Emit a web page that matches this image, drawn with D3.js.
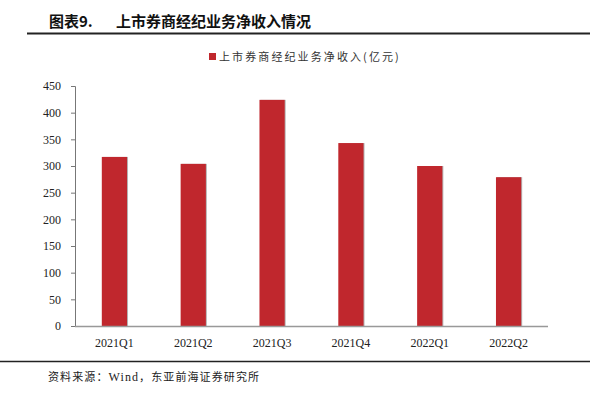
<!DOCTYPE html>
<html>
<head>
<meta charset="utf-8">
<script src="https://cdn.jsdelivr.net/npm/d3@7"></script>
<style>
  body { margin: 0; background: #fff; }
  svg { display: block; }
</style>
</head>
<body>
<div id="chart"></div>
<script>
// chart data
const quarters = ['2021Q1', '2021Q2', '2021Q3', '2021Q4', '2022Q1', '2022Q2'];
const brokerageIncome = [317, 304, 424, 343, 300, 279];
const yTicks = [0, 50, 100, 150, 200, 250, 300, 350, 400, 450];

const seriesName = '上市券商经纪业务净收入(亿元)';
const titleText = '图表9.';
const titleMain = '上市券商经纪业务净收入情况';
const sourceParts = ['资料来源：', 'Wind', '，东亚前海证券研究所'];

const width = 590, height = 397;
const margin = { top: 86, right: 42, bottom: 71, left: 75 };
const cjk = '"Noto Sans CJK SC", sans-serif';
const serif = '"Liberation Serif", "Times New Roman", serif';

const svg = d3.select('#chart').append('svg')
  .attr('width', width)
  .attr('height', height);

// header
svg.append('text')
  .attr('x', 49).attr('y', 27)
  .style('font-family', cjk)
  .style('font-size', '15px')
  .style('font-weight', 'bold')
  .attr('fill', '#111')
  .text(titleText);

svg.append('text')
  .attr('x', 116).attr('y', 27)
  .style('font-family', cjk)
  .style('font-size', '15px')
  .style('font-weight', 'bold')
  .attr('fill', '#111')
  .text(titleMain);

svg.append('line')
  .attr('x1', 27).attr('x2', width)
  .attr('y1', 33.5).attr('y2', 33.5)
  .attr('stroke', '#222')
  .attr('stroke-width', 2);

// legend
svg.append('rect')
  .attr('x', 209).attr('y', 53)
  .attr('width', 7).attr('height', 7)
  .attr('fill', '#c0272d');

svg.append('text')
  .attr('x', 219).attr('y', 61)
  .style('font-family', cjk)
  .style('font-size', '11px')
  .attr('fill', '#333')
  .attr('letter-spacing', '2.1px')
  .text(seriesName);

// scales
const x = d3.scaleBand()
  .domain(quarters)
  .range([margin.left, width - margin.right])
  .paddingInner(0.68)
  .paddingOuter(0.34);

const y = d3.scaleLinear()
  .domain([0, 450])
  .range([height - margin.bottom, margin.top]);

// bars (light grey shadow on right, then red)
svg.selectAll('rect.shadow')
  .data(brokerageIncome)
  .enter()
  .append('rect')
  .attr('class', 'shadow')
  .attr('x', (d, i) => x(quarters[i]) + 1)
  .attr('y', d => y(d))
  .attr('width', x.bandwidth())
  .attr('height', d => y(0) - y(d))
  .attr('fill', '#b5b5b5');

svg.selectAll('rect.bar')
  .data(brokerageIncome)
  .enter()
  .append('rect')
  .attr('class', 'bar')
  .attr('x', (d, i) => x(quarters[i]))
  .attr('y', d => y(d))
  .attr('width', x.bandwidth())
  .attr('height', d => y(0) - y(d))
  .attr('fill', '#c0272d');

// y axis
const yAxis = d3.axisLeft(y)
  .tickValues(yTicks)
  .tickSize(4)
  .tickPadding(10);

const gy = svg.append('g')
  .attr('transform', `translate(${margin.left},0)`)
  .call(yAxis);

gy.select('.domain').attr('stroke', '#777');
gy.selectAll('.tick line').attr('stroke', '#777');
gy.selectAll('.tick text')
  .style('font-family', serif)
  .style('font-size', '12px')
  .attr('fill', '#222');

// x axis
const xAxis = d3.axisBottom(x)
  .tickSize(0)
  .tickPadding(12);

const gx = svg.append('g')
  .attr('transform', `translate(0,${y(0)})`)
  .call(xAxis);

gx.select('.domain')
  .attr('d', `M${margin.left},0.5H${width - margin.right}`)
  .attr('stroke', '#999')
  .attr('stroke-width', 1.5);
gx.selectAll('.tick text')
  .style('font-family', serif)
  .style('font-size', '12px')
  .attr('fill', '#222');

// footer
svg.append('line')
  .attr('x1', 0).attr('x2', width)
  .attr('y1', 361.5).attr('y2', 361.5)
  .attr('stroke', '#222')
  .attr('stroke-width', 1.5);

const src = svg.append('text')
  .attr('x', 48).attr('y', 381)
  .style('font-size', '11px')
  .attr('fill', '#222')
  .attr('letter-spacing', '1.1px');

src.selectAll('tspan')
  .data(sourceParts)
  .enter()
  .append('tspan')
  .style('font-family', (d, i) => i === 1 ? serif : cjk)
  .style('font-size', (d, i) => i === 1 ? '12px' : '11px')
  .text(d => d);
</script>
</body>
</html>
